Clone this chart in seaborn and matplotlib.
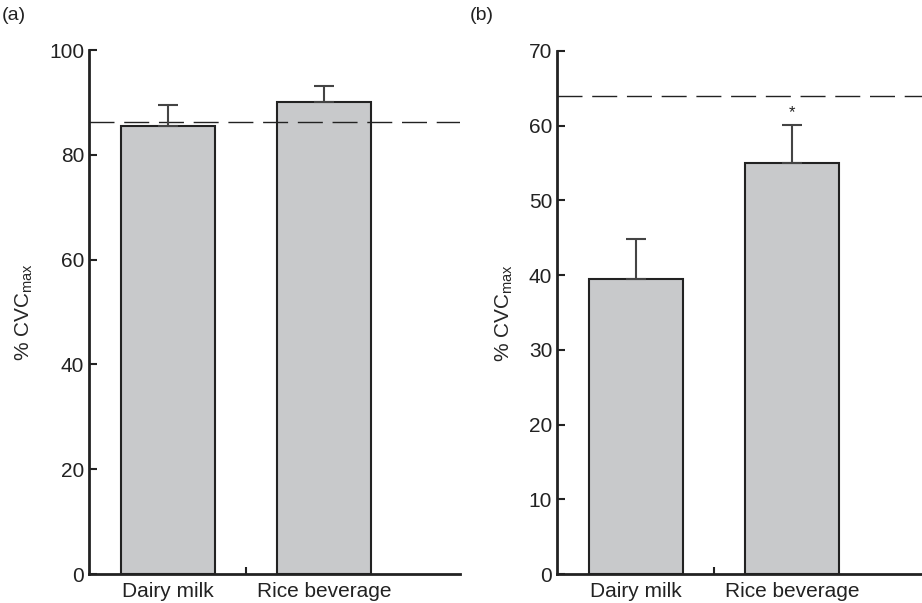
import seaborn as sns
import matplotlib.pyplot as plt
import pandas as pd

# data
drinks = ["Dairy milk", "Rice beverage"]
a_mean = [85.5, 90.1]
a_err = [4.0, 3.0]
a_ref = 86.3
b_mean = [39.5, 55.0]
b_err = [5.4, 5.1]
b_ref = 64.0
b_sig = ["", "*"]

sns.set_theme(style="ticks")
plt.rcParams['font.family'] = ['Liberation Sans', 'DejaVu Sans']
plt.rcParams['mathtext.fontset'] = 'custom'
plt.rcParams['mathtext.rm'] = 'Liberation Sans'
plt.rcParams['mathtext.it'] = 'Liberation Sans'

fig = plt.figure(figsize=(9.22, 6.03), dpi=100)
ax_a = fig.add_axes([89 / 922, 29 / 603, (460 - 89) / 922, 524 / 603])
ax_b = fig.add_axes([557 / 922, 29 / 603, (922 - 557) / 922, 523 / 603])

ink = "#222222"
fill = "#c8c9cb"


def panel(ax, means, errs, ref, ymax, step, xmax, sig=None):
    df = pd.DataFrame({"drink": drinks, "val": means})
    sns.barplot(data=df, x="drink", y="val", ax=ax, color=fill,
                edgecolor=ink, linewidth=1.5, width=0.6, saturation=1)
    ax.errorbar([0, 1], means, yerr=[[0, 0], errs], fmt="none",
                ecolor="#444444", elinewidth=1.5, capsize=7, capthick=1.5,
                zorder=3)
    ax.axhline(ref, color=ink, lw=1.0, dashes=(18, 7), zorder=1)
    if sig:
        for i, s in enumerate(sig):
            if s:
                ax.text(i, means[i] + errs[i] + ymax * 0.01, s,
                        ha="center", va="bottom", fontsize=12, color=ink)
    ax.set_xlim(-0.505, xmax)
    ax.set_ylim(0, ymax)
    ax.set_yticks(range(0, ymax + 1, step))
    ax.set_xlabel("")
    ax.set_ylabel(r"% CVC$_{\mathrm{max}}$", fontsize=15, labelpad=10)
    ax.set_xticks([0, 1])
    ax.set_xticklabels(drinks)
    ax.set_xticks([0.5], minor=True)
    ax.tick_params(axis="x", which="major", length=0, labelsize=15, pad=6,
                   colors=ink)
    ax.tick_params(axis="x", which="minor", length=5, width=1.5,
                   direction="in", color=ink)
    ax.tick_params(axis="y", length=6, width=1.5, direction="in",
                   labelsize=15, colors=ink)
    for side in ["top", "right"]:
        ax.spines[side].set_visible(False)
    for side in ["left", "bottom"]:
        ax.spines[side].set_linewidth(2)
        ax.spines[side].set_color(ink)


panel(ax_a, a_mean, a_err, a_ref, 100, 20, 1.87)
panel(ax_b, b_mean, b_err, b_ref, 70, 10, 1.835, b_sig)

fig.text(2 / 922, 1 - 16 / 603, "(a)", fontsize=14, va="center", color=ink)
fig.text(470 / 922, 1 - 16 / 603, "(b)", fontsize=14, va="center", color=ink)

fig.savefig("out.png", dpi=100)
